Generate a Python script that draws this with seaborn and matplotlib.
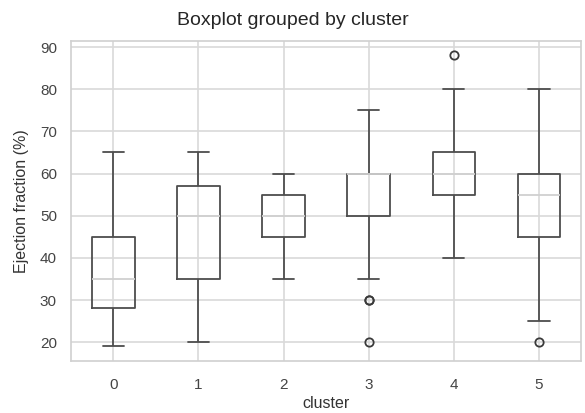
import numpy as np
import pandas as pd
import matplotlib
matplotlib.use("Agg")
import matplotlib.pyplot as plt
import seaborn as sns

clusters = [0, 1, 2, 3, 4, 5]
whisker_low = [19, 20, 35, 35, 40, 25]
q1 = [28, 35, 45, 50, 55, 45]
median = [35, 50, 50, 60, 60, 55]
q3 = [45, 57, 55, 60, 65, 60]
whisker_high = [65, 65, 60, 75, 80, 80]
outliers = [[], [], [], [30, 30, 20], [88], [20]]

# build per-cluster samples whose quartiles / whiskers reproduce the values
rows = []
for c, lo, a, m, b, hi, fl in zip(clusters, whisker_low, q1, median, q3, whisker_high, outliers):
    low_f = [v for v in fl if v < lo]
    high_f = [v for v in fl if v > hi]
    sample = low_f + [lo] + [a] * 12 + [m] * 12 + [b] * 12 + [hi] + high_f
    pad = len(high_f) - len(low_f)
    if pad > 0:
        sample = [lo] * pad + sample
    elif pad < 0:
        sample = sample + [hi] * (-pad)
    rows += [(c, v) for v in sample]
df = pd.DataFrame(rows, columns=["cluster", "ef"])

sns.set_style("whitegrid")
plt.rcParams["font.family"] = ["Liberation Sans", "DejaVu Sans"]

fig = plt.figure(figsize=(5.85, 4.13), dpi=100)
ax = fig.add_axes([0.121, 0.126, 0.873, 0.775])

edge = "#4d4d4d"
sns.boxplot(data=df, x="cluster", y="ef", width=0.5, fill=False, color=edge,
            linewidth=1.3, whis=1.5, ax=ax,
            medianprops=dict(color="#d0d0d0", linewidth=1.3),
            flierprops=dict(marker="o", markersize=6, markerfacecolor="none",
                            markeredgecolor="#3a3a3a", markeredgewidth=1.3),
            capprops=dict(color=edge, linewidth=1.3))

ax.grid(True, axis="both", color="#d9d9d9", linewidth=1.2)
ax.set_axisbelow(True)
ax.set_xlim(-0.5, 5.5)
ax.set_ylim(15.55, 91.45)
ax.set_yticks([20, 30, 40, 50, 60, 70, 80, 90])
ax.set_xlabel("cluster", fontsize=11.5, color="#333333", labelpad=3)
ax.set_ylabel("Ejection fraction (%)", fontsize=11.5, color="#333333", labelpad=8)
ax.tick_params(axis="both", labelsize=11, colors="#444444", length=0)
ax.tick_params(axis="x", pad=12)
ax.tick_params(axis="y", pad=10)
for s in ax.spines.values():
    s.set_color("#d0d0d0")
    s.set_linewidth(1.2)
fig.suptitle("Boxplot grouped by cluster", fontsize=14, color="#262626", y=0.972)

fig.savefig("out.png", dpi=100)
